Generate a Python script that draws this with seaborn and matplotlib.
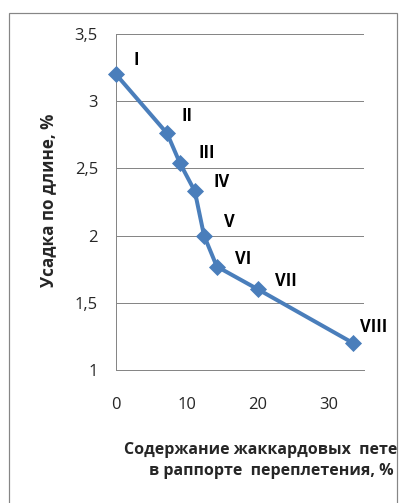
# plot.py
# shrinkage along the length vs content of jacquard loops

import matplotlib
matplotlib.use("Agg")
import matplotlib.pyplot as plt
from matplotlib.patches import Rectangle
import pandas as pd
import seaborn as sns

# data
jacquard_pct = [0, 7.2, 9.0, 11.1, 12.4, 14.2, 20.0, 33.4]
shrinkage = [3.2, 2.76, 2.54, 2.33, 2.0, 1.77, 1.6, 1.2]
point_labels = ["I", "II", "III", "IV", "V", "VI", "VII", "VIII"]

y_ticks = [1, 1.5, 2, 2.5, 3, 3.5]
y_tick_labels = ["1", "1,5", "2", "2,5", "3", "3,5"]
x_ticks = [0, 10, 20, 30]
x_tick_labels = ["0", "10", "20", "30"]

# where each roman numeral sits relative to its point (pixels, dpi=72)
label_offsets = [(20, 14), (20, 17), (27, 10), (27, 9), (25, 14), (26, 8), (28, 8), (20, 16)]

df = pd.DataFrame({"x": jacquard_pct, "y": shrinkage})

sns.set_style("white")
plt.rcParams["font.family"] = ["Open Sans", "DejaVu Sans"]

blue = "#4a7ebb"
grey = "#868686"

fig = plt.figure(figsize=(400 / 72, 503 / 72), dpi=72)
ax = fig.add_axes([116 / 400, 1 - 370 / 503, (364.5 - 116) / 400, (370 - 34) / 503])

sns.lineplot(data=df, x="x", y="y", ax=ax, color=blue, linewidth=4,
             marker="D", markersize=11, markeredgecolor=blue, markerfacecolor=blue,
             sort=False, clip_on=False, zorder=3)

for lab, xv, yv, off in zip(point_labels, jacquard_pct, shrinkage, label_offsets):
    ax.annotate(lab, (xv, yv), xytext=off, textcoords="offset points",
                ha="center", va="center", fontsize=16.5, fontweight="bold", color="black")

ax.set_xlim(0, 35)
ax.set_ylim(1, 3.5)
ax.set_yticks(y_ticks)
ax.set_yticklabels(y_tick_labels)
ax.set_xticks(x_ticks)
ax.set_xticklabels(x_tick_labels)
ax.grid(axis="y", color=grey, linewidth=1)
ax.grid(axis="x", visible=False)
ax.tick_params(axis="y", direction="out", length=7, width=1, color=grey, pad=11, labelsize=16.5)
ax.tick_params(axis="x", direction="inout", length=8, width=1, color=grey, pad=23, labelsize=16.5)
for s in ["top", "right"]:
    ax.spines[s].set_visible(False)
for s in ["left", "bottom"]:
    ax.spines[s].set_color(grey)
    ax.spines[s].set_linewidth(1)

ax.set_xlabel("")
ax.set_ylabel("")
fig.text(48 / 400, 1 - 200 / 503, "Усадка по длине, %", rotation=90,
         ha="center", va="center", fontsize=17, fontweight="bold")

# outer chart frame
frame = Rectangle((8.5 / 400, -0.1), (397 - 8.5) / 400, 1.1 - 13 / 503,
                  transform=fig.transFigure, fill=False, edgecolor=grey, linewidth=1.2)
fig.patches.append(frame)

# the label runs past the chart frame in the original and is cut there
xl = fig.text(271 / 400, 1 - 460.5 / 503, "Содержание жаккардовых  петель\nв раппорте  переплетения, %",
              ha="center", va="center", fontsize=16, fontweight="bold", linespacing=1.4)
xl.set_clip_on(True)
xl.set_clip_path(frame)

fig.savefig("out.png", dpi=72)
